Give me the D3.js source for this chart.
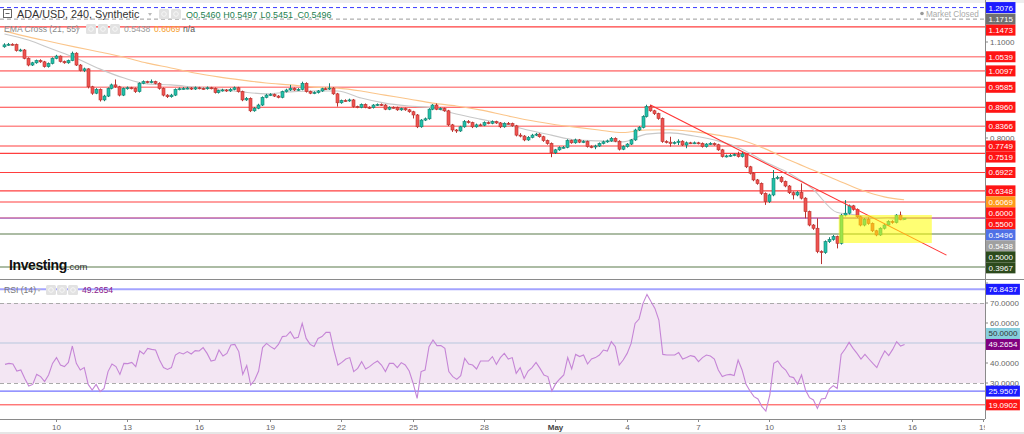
<!DOCTYPE html>
<html><head><meta charset="utf-8">
<script src="https://cdn.jsdelivr.net/npm/d3@7"></script>
<style>body{margin:0;background:#fff;overflow:hidden}svg{display:block;font-family:"Liberation Sans",Arial,sans-serif}</style>
</head><body><svg id="c" width="1024" height="434"></svg>
<script>
// ---------- DATA ----------
const firstCandle = "2021-04-07T20:00:00Z"; // 4h candles
const opens = [1.085,1.091,1.093,1.092,1.073,1.075,1.049,1.028,1.035,1.042,
1.038,1.023,1.033,1.049,1.056,1.039,1.035,1.042,1.065,1.028,
1.011,1.016,0.960,0.940,0.952,0.919,0.931,0.955,0.966,0.960,
0.934,0.955,0.957,0.955,0.945,0.971,0.976,0.974,0.976,0.971,
0.955,0.934,0.929,0.934,0.952,0.954,0.955,0.956,0.953,0.957,
0.955,0.954,0.957,0.955,0.942,0.948,0.950,0.947,0.952,0.957,
0.945,0.919,0.924,0.885,0.893,0.903,0.927,0.934,0.936,0.931,
0.927,0.945,0.950,0.955,0.950,0.952,0.971,0.945,0.940,0.942,
0.947,0.954,0.953,0.956,0.938,0.910,0.917,0.916,0.919,0.898,
0.896,0.905,0.896,0.895,0.903,0.905,0.903,0.890,0.896,0.895,
0.888,0.892,0.888,0.882,0.872,0.835,0.856,0.860,0.890,0.903,
0.890,0.892,0.885,0.841,0.825,0.822,0.835,0.851,0.848,0.835,
0.841,0.840,0.848,0.846,0.851,0.847,0.835,0.846,0.845,0.838,
0.809,0.806,0.794,0.802,0.809,0.812,0.804,0.792,0.783,0.754,
0.763,0.770,0.771,0.792,0.785,0.794,0.787,0.789,0.773,0.772,
0.775,0.783,0.788,0.791,0.799,0.790,0.765,0.773,0.781,0.794,
0.825,0.833,0.867,0.898,0.885,0.876,0.861,0.789,0.787,0.783,
0.786,0.790,0.778,0.785,0.784,0.785,0.783,0.773,0.781,0.783,
0.779,0.763,0.742,0.744,0.746,0.748,0.742,0.750,0.710,0.690,
0.669,0.658,0.627,0.601,0.622,0.674,0.677,0.664,0.650,0.629,
0.622,0.630,0.612,0.570,0.528,0.518,0.445,0.442,0.476,0.483,
0.492,0.471,0.559,0.565,0.588,0.577,0.554,0.528,0.546,0.533,
0.510,0.497,0.518,0.528,0.539,0.536,0.559,0.5460];
const highs = [1.096,1.097,1.096,1.095,1.079,1.078,1.052,1.038,1.045,1.046,
1.041,1.036,1.052,1.060,1.058,1.042,1.045,1.070,1.068,1.031,
1.020,1.018,0.963,0.956,0.955,0.935,0.958,0.970,0.983,0.963,
0.958,0.961,0.960,0.958,0.974,0.980,0.979,0.983,0.979,0.974,
0.958,0.937,0.938,0.955,0.958,0.959,0.960,0.959,0.961,0.960,
0.958,0.961,0.960,0.958,0.951,0.954,0.953,0.956,0.961,0.960,
0.948,0.928,0.927,0.897,0.907,0.930,0.938,0.940,0.939,0.934,
0.948,0.954,0.966,0.958,0.956,0.976,0.974,0.948,0.946,0.950,
0.957,0.958,0.971,0.959,0.941,0.920,0.921,0.923,0.922,0.901,
0.908,0.908,0.899,0.906,0.908,0.908,0.906,0.899,0.899,0.898,
0.895,0.895,0.891,0.885,0.875,0.859,0.864,0.893,0.906,0.908,
0.896,0.895,0.888,0.844,0.828,0.838,0.856,0.856,0.851,0.845,
0.845,0.852,0.852,0.855,0.854,0.850,0.849,0.850,0.848,0.841,
0.815,0.809,0.806,0.813,0.816,0.815,0.807,0.795,0.786,0.766,
0.774,0.775,0.796,0.795,0.798,0.797,0.793,0.792,0.777,0.779,
0.786,0.792,0.795,0.803,0.802,0.793,0.777,0.784,0.797,0.829,
0.837,0.871,0.904,0.904,0.888,0.879,0.864,0.793,0.804,0.790,
0.796,0.793,0.789,0.788,0.789,0.788,0.786,0.784,0.787,0.786,
0.782,0.766,0.748,0.750,0.752,0.757,0.757,0.753,0.713,0.693,
0.672,0.661,0.630,0.626,0.700,0.682,0.681,0.667,0.653,0.633,
0.634,0.658,0.615,0.573,0.531,0.549,0.449,0.480,0.490,0.497,
0.495,0.563,0.606,0.592,0.591,0.580,0.557,0.550,0.552,0.536,
0.513,0.521,0.532,0.543,0.543,0.562,0.570,0.5497];
const lows = [1.082,1.088,1.089,1.070,1.070,1.046,1.024,1.025,1.032,1.035,
1.020,1.020,1.030,1.046,1.036,1.032,1.032,1.040,1.025,1.008,
1.006,0.955,0.935,0.937,0.914,0.915,0.928,0.952,0.957,0.930,
0.931,0.951,0.952,0.941,0.942,0.968,0.971,0.971,0.968,0.951,
0.930,0.925,0.926,0.931,0.949,0.951,0.952,0.950,0.950,0.952,
0.951,0.951,0.952,0.939,0.939,0.945,0.944,0.944,0.949,0.942,
0.915,0.916,0.881,0.882,0.890,0.900,0.924,0.931,0.928,0.924,
0.924,0.942,0.947,0.947,0.947,0.949,0.942,0.937,0.937,0.939,
0.944,0.950,0.950,0.935,0.898,0.907,0.913,0.913,0.895,0.893,
0.893,0.893,0.891,0.892,0.900,0.900,0.887,0.887,0.892,0.885,
0.885,0.885,0.879,0.861,0.831,0.832,0.853,0.857,0.887,0.887,
0.887,0.882,0.837,0.819,0.816,0.819,0.832,0.845,0.831,0.832,
0.837,0.837,0.843,0.843,0.844,0.831,0.832,0.842,0.835,0.805,
0.802,0.790,0.791,0.799,0.806,0.801,0.788,0.779,0.740,0.750,
0.760,0.767,0.768,0.782,0.782,0.784,0.784,0.770,0.768,0.765,
0.772,0.780,0.785,0.788,0.787,0.761,0.762,0.770,0.778,0.791,
0.822,0.830,0.864,0.882,0.872,0.857,0.785,0.783,0.773,0.780,
0.778,0.775,0.768,0.781,0.781,0.780,0.770,0.770,0.778,0.776,
0.760,0.739,0.739,0.741,0.743,0.739,0.739,0.706,0.686,0.665,
0.654,0.622,0.591,0.597,0.618,0.670,0.660,0.646,0.625,0.608,
0.618,0.608,0.549,0.524,0.513,0.440,0.406,0.438,0.472,0.479,
0.455,0.467,0.555,0.561,0.573,0.550,0.524,0.524,0.529,0.506,
0.493,0.494,0.514,0.525,0.532,0.533,0.543,0.5451];
const closes = [1.091,1.093,1.092,1.073,1.075,1.049,1.028,1.035,1.042,1.038,
1.023,1.033,1.049,1.056,1.039,1.035,1.042,1.065,1.028,1.011,
1.016,0.960,0.940,0.952,0.919,0.931,0.955,0.966,0.960,0.934,
0.955,0.957,0.955,0.945,0.971,0.976,0.974,0.976,0.971,0.955,
0.934,0.929,0.934,0.952,0.954,0.955,0.956,0.953,0.957,0.955,
0.954,0.957,0.955,0.942,0.948,0.950,0.947,0.952,0.957,0.945,
0.919,0.924,0.885,0.893,0.903,0.927,0.934,0.936,0.931,0.927,
0.945,0.950,0.955,0.950,0.952,0.971,0.945,0.940,0.942,0.947,
0.954,0.953,0.956,0.938,0.910,0.917,0.916,0.919,0.898,0.896,
0.905,0.896,0.895,0.903,0.905,0.903,0.890,0.896,0.895,0.888,
0.892,0.888,0.882,0.872,0.835,0.856,0.860,0.890,0.903,0.890,
0.892,0.885,0.841,0.825,0.822,0.835,0.851,0.848,0.835,0.841,
0.840,0.848,0.846,0.851,0.847,0.835,0.846,0.845,0.838,0.809,
0.806,0.794,0.802,0.809,0.812,0.804,0.792,0.783,0.754,0.763,
0.770,0.771,0.792,0.785,0.794,0.787,0.789,0.773,0.772,0.775,
0.783,0.788,0.791,0.799,0.790,0.765,0.773,0.781,0.794,0.825,
0.833,0.867,0.898,0.885,0.876,0.861,0.789,0.787,0.783,0.786,
0.790,0.778,0.785,0.784,0.785,0.783,0.773,0.781,0.783,0.779,
0.763,0.742,0.744,0.746,0.748,0.742,0.750,0.710,0.690,0.669,
0.658,0.627,0.601,0.622,0.674,0.677,0.664,0.650,0.629,0.622,
0.630,0.612,0.570,0.528,0.518,0.445,0.442,0.476,0.483,0.492,
0.471,0.559,0.565,0.588,0.577,0.554,0.528,0.546,0.533,0.510,
0.497,0.518,0.528,0.539,0.536,0.559,0.546,0.5496];

const emaIndex = [0,6,12,18,24,30,36,42,48,54,60,66,72,78,84,90,96,102,108,114,120,126,132,138,144,150,156,162,168,174,180,186,192,198,204,210,216,222,227];
const ema21 = [1.125,1.106,1.078,1.050,1.016,0.988,0.969,0.966,0.959,0.953,0.944,0.938,0.944,0.947,0.947,0.925,0.909,0.900,0.894,0.875,0.859,0.844,0.825,0.809,0.794,0.791,0.788,0.812,0.816,0.806,0.791,0.766,0.725,0.690,0.640,0.568,0.558,0.549,0.5438];
const ema55 = [1.134,1.116,1.100,1.084,1.069,1.053,1.034,1.019,1.003,0.991,0.981,0.972,0.966,0.959,0.956,0.947,0.934,0.922,0.909,0.900,0.888,0.872,0.856,0.844,0.834,0.825,0.817,0.825,0.826,0.820,0.809,0.794,0.766,0.731,0.700,0.669,0.638,0.616,0.6069];

const rsi14 = [39.3,39.8,39.5,36.0,36.5,32.3,28.5,29.3,34.3,33.2,
30.7,34.0,39.8,42.7,39.0,38.2,40.3,48.5,39.8,36.5,
37.7,29.3,26.5,29.3,25.7,27.3,35.7,39.5,38.2,34.3,
39.8,39.7,40.3,38.2,46.0,44.5,47.3,46.8,46.5,41.5,
37.7,36.8,37.7,44.0,45.2,44.5,45.7,44.5,46.2,46.0,
47.7,44.8,41.0,41.5,46.5,43.5,44.8,49.0,49.3,45.7,
34.3,38.7,29.0,31.5,36.0,47.7,49.8,48.2,47.0,49.3,
53.2,53.5,55.7,52.3,52.8,59.8,52.3,49.3,48.2,52.3,
53.2,55.3,55.3,46.5,39.0,40.3,42.0,42.7,35.7,37.3,
40.7,37.0,38.2,39.8,41.0,39.0,35.7,39.8,39.8,37.7,
40.2,39.0,36.0,29.8,22.3,35.7,36.5,48.2,51.5,48.7,
48.7,47.3,35.7,33.2,31.8,33.7,42.3,39.5,39.0,37.0,
41.0,41.0,41.0,
43.2,39.3,42.7,44.8,42.0,42.7,34.8,37.7,32.3,36.0,
37.7,40.3,37.3,34.0,33.2,26.0,29.8,32.0,34.0,42.7,
37.0,44.3,43.2,44.0,39.5,42.0,42.7,44.0,46.5,46.0,
50.7,48.2,39.0,41.5,44.8,49.8,59.8,62.0,69.8,74.3,
70.7,67.3,61.5,44.3,44.0,44.0,44.0,45.2,42.0,42.7,
43.7,43.2,40.7,42.7,44.0,43.5,42.0,36.5,33.2,34.0,
34.3,33.7,41.5,36.5,29.3,26.0,23.2,22.0,18.2,16.0,
24.0,39.8,41.0,38.2,36.5,33.2,32.7,29.5,34.0,26.5,
22.7,21.5,17.3,22.0,22.3,27.0,28.7,27.3,44.3,47.0,
50.3,47.3,44.8,42.0,44.3,42.0,39.8,37.7,42.3,46.0,
43.7,46.8,50.7,48.5,49.2654];

const sessionHigh = 1.2076, prevClose = 1.1715, lastPrice = 0.5496;
const resistanceLevels = [1.1473,1.0539,1.0097,0.9585,0.8960,0.8366,0.7749,0.7519,0.6922,0.6348,0.6000,0.5500];
const supportLevels = [0.5000,0.3967];
const priceTicks = [0.4,0.5,0.6,0.7,0.8,0.9,1.0,1.1,1.2];
const rsiTicks = [30,40,50,60,70,80];
const rsiBand = [30,70], rsiMid = 50;
const rsiHigh = 76.8437, rsiLow1 = 25.9507, rsiLow2 = 19.0902, rsiLast = 49.2654;
const trendFrom = ["2021-05-05T00:00:00Z", 0.903], trendTo = ["2021-05-17T10:48:00Z", 0.434];
const boxTimes = ["2021-05-12T22:00:00Z","2021-05-16T20:00:00Z"], boxPrices = [0.5594, 0.4719];
const tickDates = ["2021-04-10","2021-04-13","2021-04-16","2021-04-19","2021-04-22","2021-04-25","2021-04-28","2021-05-01","2021-05-04","2021-05-07","2021-05-10","2021-05-13","2021-05-16","2021-05-19"];
const tickLabels = ["10","13","16","19","22","25","28","May","4","7","10","13","16","19"];
const ohlcHeader = ["O0.5460","H0.5497","L0.5451","C0.5496"];

// ---------- LAYOUT ----------
const plotR = 985, pTop = 0, pBot = 279, rTop = 280, rBot = 419;
const svg = d3.select("#c");
const x = d3.scaleUtc().domain([new Date("2021-04-10T00:00:00Z"), new Date("2021-05-16T00:00:00Z")]).range([56, 912]);
const yP = d3.scaleLinear().domain([0.8, 1.1]).range([138, 42]);
const yR = d3.scaleLinear().domain([30, 70]).range([383, 303]);
const t0 = new Date(firstCandle);
const tOf = i => d3.utcHour.offset(t0, 4 * i);

const defs = svg.append("defs");
defs.append("clipPath").attr("id","cp").append("rect").attr("x",0).attr("y",pTop).attr("width",plotR).attr("height",pBot-pTop);
defs.append("clipPath").attr("id","cr").append("rect").attr("x",0).attr("y",rTop).attr("width",plotR).attr("height",rBot-rTop);
defs.append("clipPath").attr("id","cx").append("rect").attr("x",0).attr("y",rBot).attr("width",plotR).attr("height",20);

svg.append("rect").attr("width",1024).attr("height",434).attr("fill","#fff");
svg.append("rect").attr("width",1024).attr("height",3).attr("fill","#eeeeee");
svg.append("rect").attr("y",432).attr("width",1024).attr("height",2).attr("fill","#e6e6e6");

const gp = svg.append("g").attr("clip-path","url(#cp)");
const hline = (g, yy, color, w, dash, op) => g.append("line").attr("x1",0).attr("x2",plotR)
  .attr("y1",yy).attr("y2",yy).attr("stroke",color).attr("stroke-width",w)
  .attr("stroke-dasharray",dash||null).attr("opacity",op==null?1:op);

hline(gp, yP(sessionHigh), "#3b3bff", 1, "4,3");
hline(gp, yP(prevClose), "#9a9a9a", 1, "4,3");
const softLevels = [1.0539,1.0097,0.9585,0.8366];
resistanceLevels.forEach(v => {
  const soft = softLevels.includes(v);
  hline(gp, yP(v), soft ? "#ff7070" : "#ff2a2a", soft ? 1.6 : 1.1, null, soft ? 0.8 : 0.9);
});
supportLevels.forEach(v => hline(gp, yP(v), "#5b7a4a", 1.1));
hline(gp, yP(lastPrice), "#5a5aff", 1, null, 0.65);

// EMAs
const emaLine = d3.line().x((d,k)=>x(tOf(emaIndex[k]))).y(d=>yP(d)).curve(d3.curveMonotoneX);
gp.append("path").attr("d", emaLine(ema55)).attr("fill","none").attr("stroke","#fbc58a").attr("stroke-width",1.1);
gp.append("path").attr("d", emaLine(ema21)).attr("fill","none").attr("stroke","#c8c8c8").attr("stroke-width",1.1);

// candles
const candles = closes.map((c,i)=>({t:tOf(i),o:opens[i],h:highs[i],l:lows[i],c}));
const cg = gp.append("g");
candles.forEach(d => {
  const up = d.c >= d.o;
  const cx = Math.round(x(d.t)) + 0.5;
  const fill = up ? "#22c1aa" : "#ef5350";
  const edge = up ? "#13806f" : "#b8322f";
  cg.append("line").attr("x1",cx).attr("x2",cx).attr("y1",yP(d.h)).attr("y2",yP(d.l)).attr("stroke",edge).attr("stroke-width",1);
  const top = yP(Math.max(d.o,d.c)), bot = yP(Math.min(d.o,d.c));
  cg.append("rect").attr("x",cx-1.5).attr("y",top).attr("width",3).attr("height",Math.max(1,bot-top))
    .attr("fill",fill).attr("stroke",edge).attr("stroke-width",0.6);
});

// trend line and box
gp.append("line").attr("x1",x(new Date(trendFrom[0]))).attr("y1",yP(trendFrom[1]))
  .attr("x2",x(new Date(trendTo[0]))).attr("y2",yP(trendTo[1])).attr("stroke","#ff3333").attr("stroke-width",1.1);
gp.append("rect").attr("x",x(new Date(boxTimes[0]))).attr("y",yP(boxPrices[0]))
  .attr("width",x(new Date(boxTimes[1]))-x(new Date(boxTimes[0]))).attr("height",yP(boxPrices[1])-yP(boxPrices[0]))
  .attr("fill","#ffff00").attr("opacity",0.55);

// header
const icon = (g,x0,y0) => { g.append("rect").attr("x",x0).attr("y",y0).attr("width",10).attr("height",10).attr("rx",1.5).attr("fill","#e2e2e2");
  g.append("circle").attr("cx",x0+5).attr("cy",y0+5).attr("r",2.3).attr("fill","none").attr("stroke","#f7f7f7").attr("stroke-width",1); };
const caret = (x0,y0) => svg.append("path").attr("d",`M${x0},${y0}l4,0l-2,3z`).attr("fill","#bbb");
svg.append("rect").attr("x",3.5).attr("y",9.5).attr("width",8).attr("height",8).attr("fill","#fff").attr("stroke","#666");
svg.append("line").attr("x1",5.5).attr("x2",9.5).attr("y1",13.5).attr("y2",13.5).attr("stroke","#666");
svg.append("text").attr("x",17).attr("y",18).attr("font-size",10.8).attr("fill","#333").text("ADA/USD, 240, Synthetic");
caret(148,13);
icon(svg,159,9); icon(svg,171,9);
ohlcHeader.forEach((s,k)=>svg.append("text").attr("x",186+k*37.2).attr("y",18).attr("font-size",9).attr("fill","#22804f").text(s));

svg.append("text").attr("x",4).attr("y",32).attr("font-size",8.6).attr("fill","#888").text("EMA Cross (21, 55)");
caret(76,28);
icon(svg,86,24); icon(svg,98,24); icon(svg,110,24);
svg.append("text").attr("x",124).attr("y",32).attr("font-size",8.6).attr("fill","#999").text(ema21[ema21.length-1].toFixed(4));
svg.append("text").attr("x",154).attr("y",32).attr("font-size",8.6).attr("fill","#f5a030").text(ema55[ema55.length-1].toFixed(4));
svg.append("text").attr("x",183).attr("y",32).attr("font-size",8.6).attr("fill","#555").text("n/a");

svg.append("circle").attr("cx",922).attr("cy",13.5).attr("r",1.8).attr("fill","#999");
svg.append("text").attr("x",926).attr("y",16.5).attr("font-size",8.2).attr("fill","#aaa").text("Market Closed");

// logo
const lg = svg.append("text").attr("x",9).attr("y",270).attr("fill","#111");
lg.append("tspan").attr("font-size",14).attr("font-weight","bold").attr("letter-spacing",-0.4).text("Investing");
lg.append("tspan").attr("font-size",9.5).attr("fill","#333").text(".com");

// ---------- RSI ----------
const gr = svg.append("g").attr("clip-path","url(#cr)");
gr.append("rect").attr("x",0).attr("width",plotR).attr("y",yR(rsiBand[1])).attr("height",yR(rsiBand[0])-yR(rsiBand[1])).attr("fill","#f3e6f3");
rsiBand.forEach(v=>gr.append("line").attr("x1",0).attr("x2",plotR).attr("y1",yR(v)+0.5).attr("y2",yR(v)+0.5).attr("stroke","#aaa").attr("stroke-dasharray","4,3"));
gr.append("line").attr("x1",0).attr("x2",plotR).attr("y1",yR(rsiMid)).attr("y2",yR(rsiMid)).attr("stroke","#b7c7dd").attr("stroke-width",1);
gr.append("line").attr("x1",0).attr("x2",plotR).attr("y1",yR(rsiHigh)).attr("y2",yR(rsiHigh)).attr("stroke","#a3a3ff").attr("stroke-width",2);
gr.append("line").attr("x1",0).attr("x2",plotR).attr("y1",yR(rsiLow1)).attr("y2",yR(rsiLow1)).attr("stroke","#4d4dff").attr("stroke-width",1);
gr.append("line").attr("x1",0).attr("x2",plotR).attr("y1",yR(rsiLow2)).attr("y2",yR(rsiLow2)).attr("stroke","#ff3b3b").attr("stroke-width",1);
gr.append("path").attr("d", d3.line().x((d,i)=>x(tOf(i))+0.5).y(d=>yR(d))(rsi14)).attr("fill","none").attr("stroke","#c585d6").attr("stroke-width",1.1);

svg.append("text").attr("x",4).attr("y",293).attr("font-size",8.6).attr("fill","#777").text("RSI (14)");
caret(37,289);
icon(svg,46,285); icon(svg,57,285); icon(svg,68,285);
svg.append("text").attr("x",82).attr("y",293).attr("font-size",8.6).attr("fill","#8a1a8a").text(rsiLast.toFixed(4));

// frame lines
svg.append("line").attr("x1",0).attr("x2",1024).attr("y1",pBot+0.5).attr("y2",pBot+0.5).attr("stroke","#8a8a8a");
svg.append("line").attr("x1",0).attr("x2",plotR).attr("y1",rBot+0.5).attr("y2",rBot+0.5).attr("stroke","#8a8a8a");
svg.append("line").attr("x1",plotR+0.5).attr("x2",plotR+0.5).attr("y1",0).attr("y2",rBot).attr("stroke","#8a8a8a");

// x axis
const gx = svg.append("g").attr("clip-path","url(#cx)");
tickDates.forEach((s,k)=>{
  const xx = Math.round(x(new Date(s+"T00:00:00Z")))+0.5;
  gx.append("line").attr("x1",xx).attr("x2",xx).attr("y1",rBot).attr("y2",rBot+3).attr("stroke","#888");
  gx.append("text").attr("x",xx).attr("y",430).attr("text-anchor","middle").attr("font-size",8)
    .attr("fill", tickLabels[k]==="May" ? "#444" : "#666").attr("font-weight", tickLabels[k]==="May" ? "bold" : null).text(tickLabels[k]);
});

// label layout
function layout(list, dir, h) {
  list.sort((a,b)=>a.y-b.y);
  if (dir==="down") { for (let k=1;k<list.length;k++) list[k].y = Math.max(list[k].y, list[k-1].y + h); }
  else { for (let k=list.length-2;k>=0;k--) list[k].y = Math.min(list[k].y, list[k+1].y - h); }
  return list;
}
function drawLabels(list) {
  list.forEach(d=>{
    const g = svg.append("g");
    const t = g.append("text").attr("x",988.5).attr("y",d.y+3).attr("font-size",8).attr("fill",d.fg||"#fff").text(d.text);
    const w = t.node().getComputedTextLength();
    g.insert("rect","text").attr("x",986).attr("y",d.y-5.5).attr("width",w+5).attr("height",11).attr("fill",d.bg);
  });
}
const pl = [];
pl.push({y:yP(sessionHigh), text:sessionHigh.toFixed(4), bg:"#1b1bff"});
pl.push({y:yP(prevClose), text:prevClose.toFixed(4), bg:"#707070"});
resistanceLevels.forEach(v=>pl.push({y:yP(v), text:v.toFixed(4), bg:"#ff1414"}));
pl.push({y:yP(ema55[ema55.length-1]), text:ema55[ema55.length-1].toFixed(4), bg:"#ff9a1a"});
pl.push({y:yP(lastPrice)+0.01, text:lastPrice.toFixed(4), bg:"#4f70e6"});
pl.push({y:yP(ema21[ema21.length-1]), text:ema21[ema21.length-1].toFixed(4), bg:"#a0a0a0"});
supportLevels.forEach(v=>pl.push({y:yP(v), text:v.toFixed(4), bg:"#2c4a1c"}));
layout(pl, "down", 11);

const rl = [];
rl.push({y:yR(rsiHigh), text:rsiHigh.toFixed(4), bg:"#1b1bff"});
rl.push({y:yR(rsiMid), text:rsiMid.toFixed(4), bg:"#86cedd", fg:"#333"});
rl.push({y:yR(rsiLast), text:rsiLast.toFixed(4), bg:"#800080"});
rl.push({y:yR(rsiLow1), text:rsiLow1.toFixed(4), bg:"#1b1bff"});
rl.push({y:yR(rsiLow2), text:rsiLow2.toFixed(4), bg:"#ff1414"});
layout(rl, "up", 11);

const free = (yy, list) => list.every(d => Math.abs(d.y - yy) >= 7.5);

// price axis ticks (text hidden where a label box covers it)
priceTicks.forEach(v=>{
  const yy = yP(v);
  svg.append("line").attr("x1",plotR).attr("x2",plotR+3).attr("y1",yy).attr("y2",yy).attr("stroke","#888");
  if (free(yy, pl)) svg.append("text").attr("x",990).attr("y",yy+3).attr("font-size",8).attr("fill","#666").text(v.toFixed(4));
});
rsiTicks.forEach(v=>{
  const yy = yR(v);
  if (yy < rTop + 2) return;
  svg.append("line").attr("x1",plotR).attr("x2",plotR+3).attr("y1",yy).attr("y2",yy).attr("stroke","#888");
  if (free(yy, rl)) svg.append("text").attr("x",990).attr("y",yy+3).attr("font-size",8).attr("fill","#666").text(v.toFixed(4));
});
drawLabels(pl);
drawLabels(rl);
</script></body></html>
